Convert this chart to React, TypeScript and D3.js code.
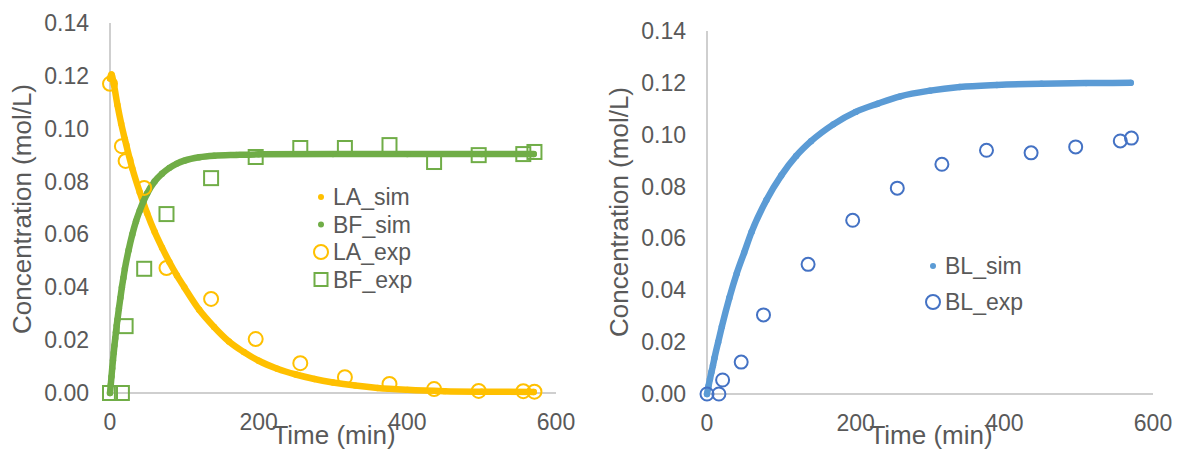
import React from 'react';
import * as d3 from 'd3';

// ---------- data ----------
const xTicks = [0, 200, 400, 600];
const yTicks = [0, 0.02, 0.04, 0.06, 0.08, 0.1, 0.12, 0.14];

const laSimTime = [0, 2, 5, 10, 15, 20, 30, 40, 50, 60, 70, 80, 90, 100, 120, 140, 160, 180, 200, 225, 250, 275, 300, 330, 360, 400, 450, 500, 570];
const laSimValue = [0.119, 0.1205, 0.117, 0.109, 0.102, 0.096, 0.085, 0.076, 0.068, 0.061, 0.055, 0.0495, 0.0445, 0.04, 0.0315, 0.025, 0.0195, 0.0155, 0.0122, 0.0092, 0.007, 0.0053, 0.004, 0.0028, 0.0019, 0.0012, 0.0007, 0.0005, 0.0004];

const bfSimTime = [0, 1, 2, 3, 4, 5, 6, 7, 8, 9, 10, 12, 14, 16, 18, 20, 25, 30, 35, 40, 45, 50, 60, 70, 80, 90, 100, 120, 140, 170, 200, 300, 400, 500, 570];
const bfSimValue = [0, 0.003, 0.0062, 0.0094, 0.0124, 0.0152, 0.018, 0.0206, 0.023, 0.0255, 0.0277, 0.032, 0.036, 0.04, 0.0435, 0.047, 0.054, 0.06, 0.065, 0.069, 0.0725, 0.0755, 0.08, 0.083, 0.0852, 0.0868, 0.0879, 0.0892, 0.0898, 0.0901, 0.0903, 0.0904, 0.0904, 0.0904, 0.0904];

const blSimTime = [0, 2, 4, 6, 8, 10, 15, 20, 30, 40, 50, 60, 80, 100, 120, 140, 170, 200, 230, 260, 300, 340, 390, 450, 510, 570];
const blSimValue = [0, 0.003, 0.0058, 0.0085, 0.011, 0.0138, 0.02, 0.026, 0.037, 0.0465, 0.0545, 0.0625, 0.0748, 0.0843, 0.0918, 0.0975, 0.104, 0.1088, 0.112, 0.1148, 0.117, 0.1184, 0.1192, 0.1197, 0.1199, 0.12];

const expTime = [0, 16, 21, 46, 76, 136, 196, 256, 316, 376, 436, 496, 556, 571];
const laExp = [0.117, 0.0934, 0.0878, 0.0776, 0.0473, 0.0356, 0.0204, 0.0113, 0.006, 0.0034, 0.0015, 0.0008, 0.0007, 0.0005];
const bfExp = [0, 0, 0.0253, 0.047, 0.0677, 0.0813, 0.0893, 0.0927, 0.0927, 0.0938, 0.0874, 0.09, 0.0904, 0.0912];
const blExp = [0, 0, 0.0054, 0.0123, 0.0305, 0.05, 0.067, 0.0794, 0.0886, 0.094, 0.093, 0.0953, 0.0976, 0.0987];

// ---------- styling ----------
const FONT = '"Liberation Sans", Arial, sans-serif';
const TEXT = '#595959';
const AXIS = '#BFBFBF';
const YELLOW = '#FFC000';
const GREEN = '#70AD47';
const LIGHTBLUE = '#5B9BD5';
const BLUE = '#4472C4';

type Pt = [number, number];
const zip = (t: number[], v: number[]): Pt[] => t.map((d, i) => [d, v[i]]);

interface LegendItem { label: string; kind: 'dot' | 'circle' | 'square'; color: string; }

interface PanelProps {
  x0: number; x1: number; yTop: number; yBottom: number;
  yTitleX: number; yTitleY: number; xTitleX: number; xTitleY: number;
  sims: { data: Pt[]; color: string }[];
  exps: { data: Pt[]; color: string; kind: 'circle' | 'square'; r: number }[];
  legend: LegendItem[]; legendX: number; legendY: number; legendStep: number;
}

function Marker({ kind, cx, cy, color, r }: { kind: string; cx: number; cy: number; color: string; r: number }) {
  if (kind === 'dot') return <circle cx={cx} cy={cy} r={3} fill={color} />;
  if (kind === 'circle') return <circle cx={cx} cy={cy} r={r} fill="none" stroke={color} strokeWidth={2} />;
  return <rect x={cx - r} y={cy - r} width={2 * r} height={2 * r} fill="none" stroke={color} strokeWidth={2} />;
}

function Panel(p: PanelProps) {
  const x = d3.scaleLinear().domain([0, 600]).range([p.x0, p.x1]);
  const y = d3.scaleLinear().domain([0, 0.14]).range([p.yBottom, p.yTop]);
  const line = d3.line<Pt>().x(d => x(d[0])).y(d => y(d[1])).curve(d3.curveMonotoneX);
  const fmtY = d3.format('.2f');
  return (
    <g fontFamily={FONT} fill={TEXT}>
      <line x1={p.x0} x2={p.x0} y1={p.yTop} y2={p.yBottom} stroke={AXIS} strokeWidth={1.5} />
      <line x1={p.x0} x2={p.x1} y1={p.yBottom} y2={p.yBottom} stroke={AXIS} strokeWidth={1.5} />
      {yTicks.map(t => (
        <text key={t} x={p.x0 - 21} y={y(t) + 8} textAnchor="end" fontSize={23}>{fmtY(t)}</text>
      ))}
      {xTicks.map(t => (
        <text key={t} x={x(t)} y={p.yBottom + 37} textAnchor="middle" fontSize={23}>{t}</text>
      ))}
      {p.sims.map((s, i) => (
        <g key={i}>
          <path d={line(s.data) || ''} fill="none" stroke={s.color} strokeWidth={6.5} strokeLinecap="round" strokeLinejoin="round" />
          {s.data.map((d, j) => <circle key={j} cx={x(d[0])} cy={y(d[1])} r={3.2} fill={s.color} />)}
        </g>
      ))}
      {p.exps.map((s, i) => (
        <g key={i}>
          {s.data.map((d, j) => <Marker key={j} kind={s.kind} cx={x(d[0])} cy={y(d[1])} color={s.color} r={s.r} />)}
        </g>
      ))}
      <text transform={`translate(${p.yTitleX},${p.yTitleY}) rotate(-90)`} textAnchor="middle" fontSize={26}>Concentration (mol/L)</text>
      <text x={p.xTitleX} y={p.xTitleY} textAnchor="middle" fontSize={26}>Time (min)</text>
      {p.legend.map((l, i) => (
        <g key={l.label}>
          <Marker kind={l.kind} cx={p.legendX} cy={p.legendY + i * p.legendStep} color={l.color} r={l.kind === 'circle' ? 7 : 6.5} />
          <text x={p.legendX + 12} y={p.legendY + i * p.legendStep + 8} fontSize={23}>{l.label}</text>
        </g>
      ))}
    </g>
  );
}

export default function App() {
  return (
    <svg width={1181} height={457} style={{ position: 'absolute', left: 0, top: 0, background: '#fff' }}>
      <rect width={1181} height={457} fill="#fff" />
      <Panel
        x0={110} x1={556} yTop={23} yBottom={393}
        yTitleX={31} yTitleY={209} xTitleX={334} xTitleY={444}
        sims={[{ data: zip(laSimTime, laSimValue), color: YELLOW }, { data: zip(bfSimTime, bfSimValue), color: GREEN }]}
        exps={[{ data: zip(expTime, laExp), color: YELLOW, kind: 'circle', r: 7 }, { data: zip(expTime, bfExp), color: GREEN, kind: 'square', r: 7 }]}
        legend={[
          { label: 'LA_sim', kind: 'dot', color: YELLOW },
          { label: 'BF_sim', kind: 'dot', color: GREEN },
          { label: 'LA_exp', kind: 'circle', color: YELLOW },
          { label: 'BF_exp', kind: 'square', color: GREEN },
        ]}
        legendX={321} legendY={197} legendStep={27.5}
      />
      <Panel
        x0={707} x1={1153} yTop={31} yBottom={394}
        yTitleX={628} yTitleY={212} xTitleX={931} xTitleY={444}
        sims={[{ data: zip(blSimTime, blSimValue), color: LIGHTBLUE }]}
        exps={[{ data: zip(expTime, blExp), color: BLUE, kind: 'circle', r: 6.5 }]}
        legend={[
          { label: 'BL_sim', kind: 'dot', color: LIGHTBLUE },
          { label: 'BL_exp', kind: 'circle', color: BLUE },
        ]}
        legendX={933} legendY={266} legendStep={36}
      />
    </svg>
  );
}
